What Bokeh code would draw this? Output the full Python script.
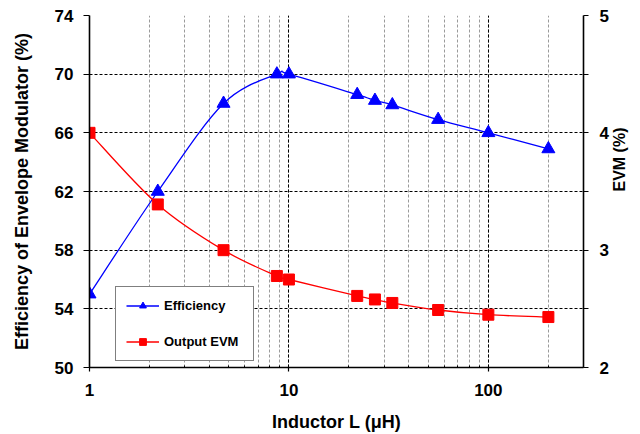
import math
from bokeh.plotting import figure
from bokeh.models import (Range1d, LinearAxis, FixedTicker, LogTicker, Legend, LegendItem,
                          CustomJSTickFormatter)
from bokeh.embed import file_html
from bokeh.resources import INLINE

# ---- data ----
inductor_uH = [1, 2.2, 4.7, 8.7, 10, 22, 27, 33, 56, 100, 200]
efficiency_pct = [55.0, 62.0, 68.0, 70.0, 70.0, 68.6, 68.2, 67.9, 66.9, 66.0, 64.9]
evm_pct = [4.00, 3.39, 3.00, 2.78, 2.75, 2.61, 2.58, 2.55, 2.49, 2.45, 2.43]

left_ticks = [50, 54, 58, 62, 66, 70, 74]
right_ticks = [2, 3, 4, 5]
right_minor_ticks = [2.5, 3.5, 4.5]

FONT = "Liberation Sans"


def smooth_segments(xs, ys):
    """Catmull-Rom style Bezier control points (log-x space), like a spreadsheet smoothed line."""
    lx = [math.log10(v) for v in xs]
    n = len(xs)
    d = dict(x0=[], y0=[], x1=[], y1=[], cx0=[], cy0=[], cx1=[], cy1=[])
    for i in range(n - 1):
        a = max(i - 1, 0)
        b = min(i + 2, n - 1)
        c1x = lx[i] + (lx[i + 1] - lx[a]) / 6.0
        c1y = ys[i] + (ys[i + 1] - ys[a]) / 6.0
        c2x = lx[i + 1] - (lx[b] - lx[i]) / 6.0
        c2y = ys[i + 1] - (ys[b] - ys[i]) / 6.0
        d["x0"].append(xs[i]); d["y0"].append(ys[i])
        d["x1"].append(xs[i + 1]); d["y1"].append(ys[i + 1])
        d["cx0"].append(10 ** c1x); d["cy0"].append(c1y)
        d["cx1"].append(10 ** c2x); d["cy1"].append(c2y)
    return d


p = figure(width=640, height=434, x_axis_type="log",
           x_range=Range1d(1, 300), y_range=Range1d(50, 74),
           output_backend="svg", toolbar_location=None,
           min_border_left=89, min_border_right=57,
           min_border_top=15, min_border_bottom=67)
p.outline_line_color = None
p.background_fill_color = "white"
p.border_fill_color = "white"
p.extra_y_ranges = {"evm": Range1d(2, 5)}

# ---- grids ----
p.xgrid.ticker = LogTicker(num_minor_ticks=10)
p.xgrid.grid_line_color = "black"
p.xgrid.grid_line_dash = "3 2"
p.xgrid.grid_line_width = 1
p.xgrid.minor_grid_line_color = "#9a9a9a"
p.xgrid.minor_grid_line_dash = "3 2"
p.xgrid.minor_grid_line_width = 1
p.ygrid.ticker = FixedTicker(ticks=left_ticks)
p.ygrid.grid_line_color = "black"
p.ygrid.grid_line_dash = "3 2"
p.ygrid.grid_line_width = 1

# ---- left axis ----
ya = p.yaxis[0]
ya.ticker = FixedTicker(ticks=left_ticks)
ya.axis_label = "Efficiency of Envelope Modulator (%)"
ya.major_tick_out = 6
ya.major_tick_in = 0
ya.major_label_standoff = 10

# ---- bottom axis ----
xa = p.xaxis[0]
xa.axis_label = "Inductor L (μH)"
xa.formatter = CustomJSTickFormatter(code="return String(Math.round(tick));")
xa.major_tick_out = 4
xa.major_tick_in = 0
xa.minor_tick_out = 0
xa.minor_tick_in = 2
xa.major_label_standoff = 12
xa.axis_label_standoff = 13

# ---- right axis ----
ra = LinearAxis(y_range_name="evm",
                ticker=FixedTicker(ticks=right_ticks, minor_ticks=right_minor_ticks),
                axis_label="EVM (%)")
ra.major_tick_out = 5
ra.major_tick_in = 0
ra.minor_tick_out = 5
ra.minor_tick_in = 0
ra.major_label_standoff = 11
ra.axis_label_standoff = 8
ra.axis_label_orientation = math.pi / 2
p.add_layout(ra, "right")

for ax in (ya, xa, ra):
    ax.axis_line_color = "black"
    ax.axis_line_width = 1.6
    ax.major_tick_line_color = "black"
    ax.major_tick_line_width = 1.2
    ax.minor_tick_line_color = None if ax is ya else "black"
    ax.major_label_text_font = FONT
    ax.major_label_text_font_style = "bold"
    ax.major_label_text_font_size = "17px"
    ax.major_label_text_color = "black"
    ax.axis_label_text_font = FONT
    ax.axis_label_text_font_style = "bold"
    ax.axis_label_text_font_size = "18px"
    ax.axis_label_text_color = "black"
ya.axis_label_standoff = 20
ra.axis_label_text_font_size = "16px"

# ---- series ----
BLUE = "#0000FF"
RED = "#FF0000"

seg_e = smooth_segments(inductor_uH, efficiency_pct)
eff_line = p.bezier(x0="x0", y0="y0", x1="x1", y1="y1", cx0="cx0", cy0="cy0",
                    cx1="cx1", cy1="cy1", source=seg_e, line_color=BLUE, line_width=1.3)
eff_pts = p.scatter(inductor_uH, efficiency_pct, marker="triangle", size=13,
                    fill_color=BLUE, line_color=BLUE)

seg_v = smooth_segments(inductor_uH, evm_pct)
evm_line = p.bezier(x0="x0", y0="y0", x1="x1", y1="y1", cx0="cx0", cy0="cy0",
                    cx1="cx1", cy1="cy1", source=seg_v, line_color=RED, line_width=1.3,
                    y_range_name="evm")
evm_pts = p.scatter(inductor_uH, evm_pct, marker="square", size=11,
                    fill_color=RED, line_color=RED, y_range_name="evm")

legend = Legend(items=[LegendItem(label="Efficiency", renderers=[eff_line, eff_pts]),
                       LegendItem(label="Output EVM", renderers=[evm_line, evm_pts])],
                location=(26, 6), orientation="vertical")
legend.border_line_color = "black"
legend.border_line_width = 1.5
legend.background_fill_color = "white"
legend.background_fill_alpha = 1
legend.padding = 10
legend.spacing = 19
legend.margin = 0
legend.label_height = 17
legend.glyph_height = 17
legend.glyph_width = 33
legend.label_standoff = 5
legend.label_width = 79
legend.label_text_font = FONT
legend.label_text_font_style = "bold"
legend.label_text_font_size = "13px"
legend.label_text_color = "black"
p.add_layout(legend, "center")

open("out.html", "w").write(file_html(p, INLINE))
